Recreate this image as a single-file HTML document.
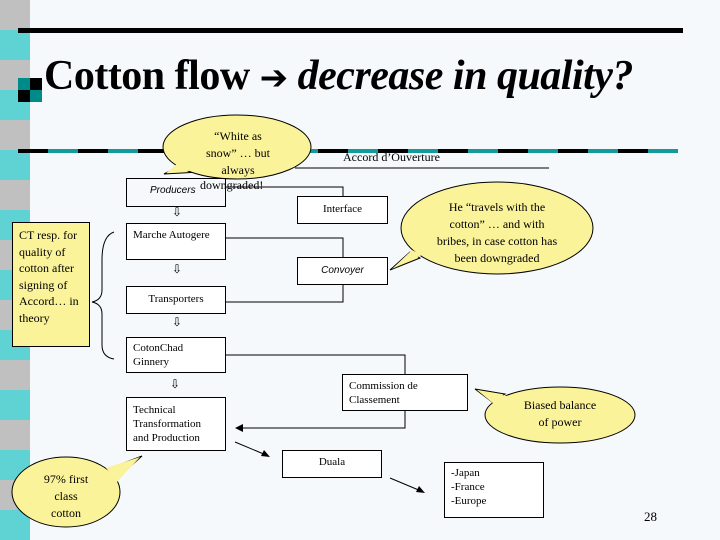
<!DOCTYPE html>
<html><head><meta charset="utf-8"><style>
body{margin:0;width:720px;height:540px;overflow:hidden;background:#f5f9fb;font-family:"Liberation Serif",serif;position:relative}
.stripe{position:absolute;left:0;top:0;width:30px;height:540px;background:repeating-linear-gradient(to bottom,#c0c0c0 0 30px,#5fd3d3 30px 60px)}
.b{position:absolute;border:1px solid #000;background:#fff;font-size:11px;line-height:14px;box-sizing:border-box}
.t{position:absolute;font-size:11px;white-space:nowrap}
</style></head><body>
<div class="stripe"></div>
<div style="position:absolute;left:18px;top:28px;width:665px;height:5px;background:#000"></div>
<div style="position:absolute;left:18px;top:78px;width:12px;height:12px;background:#008b8b"></div>
<div style="position:absolute;left:30px;top:78px;width:12px;height:12px;background:#000"></div>
<div style="position:absolute;left:18px;top:90px;width:12px;height:12px;background:#000"></div>
<div style="position:absolute;left:30px;top:90px;width:12px;height:12px;background:#008b8b"></div>
<div style="position:absolute;left:44px;top:52px;font-size:42px;font-weight:bold;white-space:nowrap;letter-spacing:-0.5px">Cotton flow <span style="font-family:'DejaVu Sans';font-size:34px">➔</span> <i>decrease in quality?</i></div>
<div style="position:absolute;left:18px;top:149px;width:660px;height:4px;background:repeating-linear-gradient(to right,#000 0 30px,#139a9a 30px 60px)"></div>
<svg width="720" height="540" style="position:absolute;left:0;top:0">
<g fill="#fbf39a" stroke="#000" stroke-width="1">
<path d="M175,168 L164,174 L200,172 Z"/><ellipse cx="237" cy="147" rx="74" ry="32"/>
<path d="M410,252 L390,270 L420,258 Z"/><ellipse cx="497" cy="228" rx="96" ry="46"/>
<path d="M492,402 L475,389 L505,394 Z"/><ellipse cx="560" cy="415" rx="75" ry="28"/>
<path d="M105,470 L142,456 L115,480 Z"/><ellipse cx="66" cy="492" rx="54" ry="35"/>
</g>
<g fill="#fbf39a" stroke="none"><path d="M178,163 L166,173 L198,170 Z"/><path d="M412,250 L392,269 L422,255 Z"/><path d="M494,404 L477,390 L507,396 Z"/><path d="M106,468 L140,457 L117,482 Z"/></g>
<g fill="none" stroke="#000" stroke-width="1">
<path d="M295,168 H549"/>
<path d="M225,187 H343 V196"/><path d="M225,238 H343 V257"/><path d="M225,302 H343 V284"/>
<path d="M225,355 H405 V374"/><path d="M405,410 V428 H240"/>
<path d="M235,442 L266,455"/><path d="M390,478 L421,491"/>
<path d="M114,232 Q102,236 102,260 V290 Q102,300 92,302 Q102,304 102,314 V345 Q102,357 114,359"/>
</g>
<g fill="#000"><path d="M235,428 L243,424 L243,432 Z"/><path d="M270,457 L261,456 L264,450 Z"/><path d="M425,493 L416,492 L419,486 Z"/></g>
</svg>
<div class="b" style="left:12px;top:222px;width:78px;height:125px;background:#fbf39a;font-size:12px;line-height:16.5px;padding:4px 6px">CT resp. for quality of cotton after signing of Accord… in theory</div>
<div class="t" style="left:38px;top:471px;font-size:12px;line-height:17px;text-align:center;width:56px;white-space:normal">97% first class cotton</div>
<div class="t" style="left:198px;top:128px;font-size:12px;line-height:17px;text-align:center;width:80px;white-space:normal">“White as snow” … but always</div>
<div class="b" style="left:126px;top:178px;width:100px;height:29px;padding-top:5px;padding-left:23px;font-style:italic;font-family:'Liberation Sans';font-size:10px;background:transparent">Producers</div>
<div class="t" style="left:200px;top:178px;font-size:12px">downgraded!</div>
<div class="t" style="left:343px;top:150px;font-size:12px">Accord d’Ouverture</div>
<div class="b" style="left:297px;top:196px;width:91px;height:28px;text-align:center;padding-top:5px">Interface</div>
<div class="t" style="left:434px;top:199px;font-size:12px;line-height:17px;text-align:center;width:126px;white-space:normal">He “travels with the cotton” … and with bribes, in case cotton has been downgraded</div>
<div class="b" style="left:126px;top:223px;width:100px;height:37px;padding-top:4px;padding-left:6px">Marche Autogere</div>
<div class="b" style="left:297px;top:257px;width:91px;height:28px;text-align:center;padding-top:6px;font-style:italic;font-family:'Liberation Sans';font-size:10px">Convoyer</div>
<div class="b" style="left:126px;top:286px;width:100px;height:28px;text-align:center;padding-top:5px">Transporters</div>
<div class="b" style="left:126px;top:337px;width:100px;height:36px;padding:3px 6px">CotonChad Ginnery</div>
<div class="b" style="left:342px;top:374px;width:126px;height:37px;padding:4px 6px">Commission de Classement</div>
<div class="t" style="left:510px;top:397px;font-size:12px;line-height:17px;text-align:center;width:100px">Biased balance<br>of power</div>
<div class="b" style="left:126px;top:397px;width:100px;height:54px;padding:5px 6px">Technical Transformation and Production</div>
<div class="b" style="left:282px;top:450px;width:100px;height:28px;text-align:center;padding-top:4px">Duala</div>
<div class="b" style="left:444px;top:462px;width:100px;height:56px;padding:3px 6px">-Japan<br>-France<br>-Europe</div>
<div class="t" style="left:172px;top:205px;font-size:12px;font-family:'DejaVu Sans'">⇩</div>
<div class="t" style="left:172px;top:262px;font-size:12px;font-family:'DejaVu Sans'">⇩</div>
<div class="t" style="left:172px;top:315px;font-size:12px;font-family:'DejaVu Sans'">⇩</div>
<div class="t" style="left:170px;top:377px;font-size:12px;font-family:'DejaVu Sans'">⇩</div>
<div class="t" style="left:644px;top:509px;font-size:13px">28</div>
</body></html>
